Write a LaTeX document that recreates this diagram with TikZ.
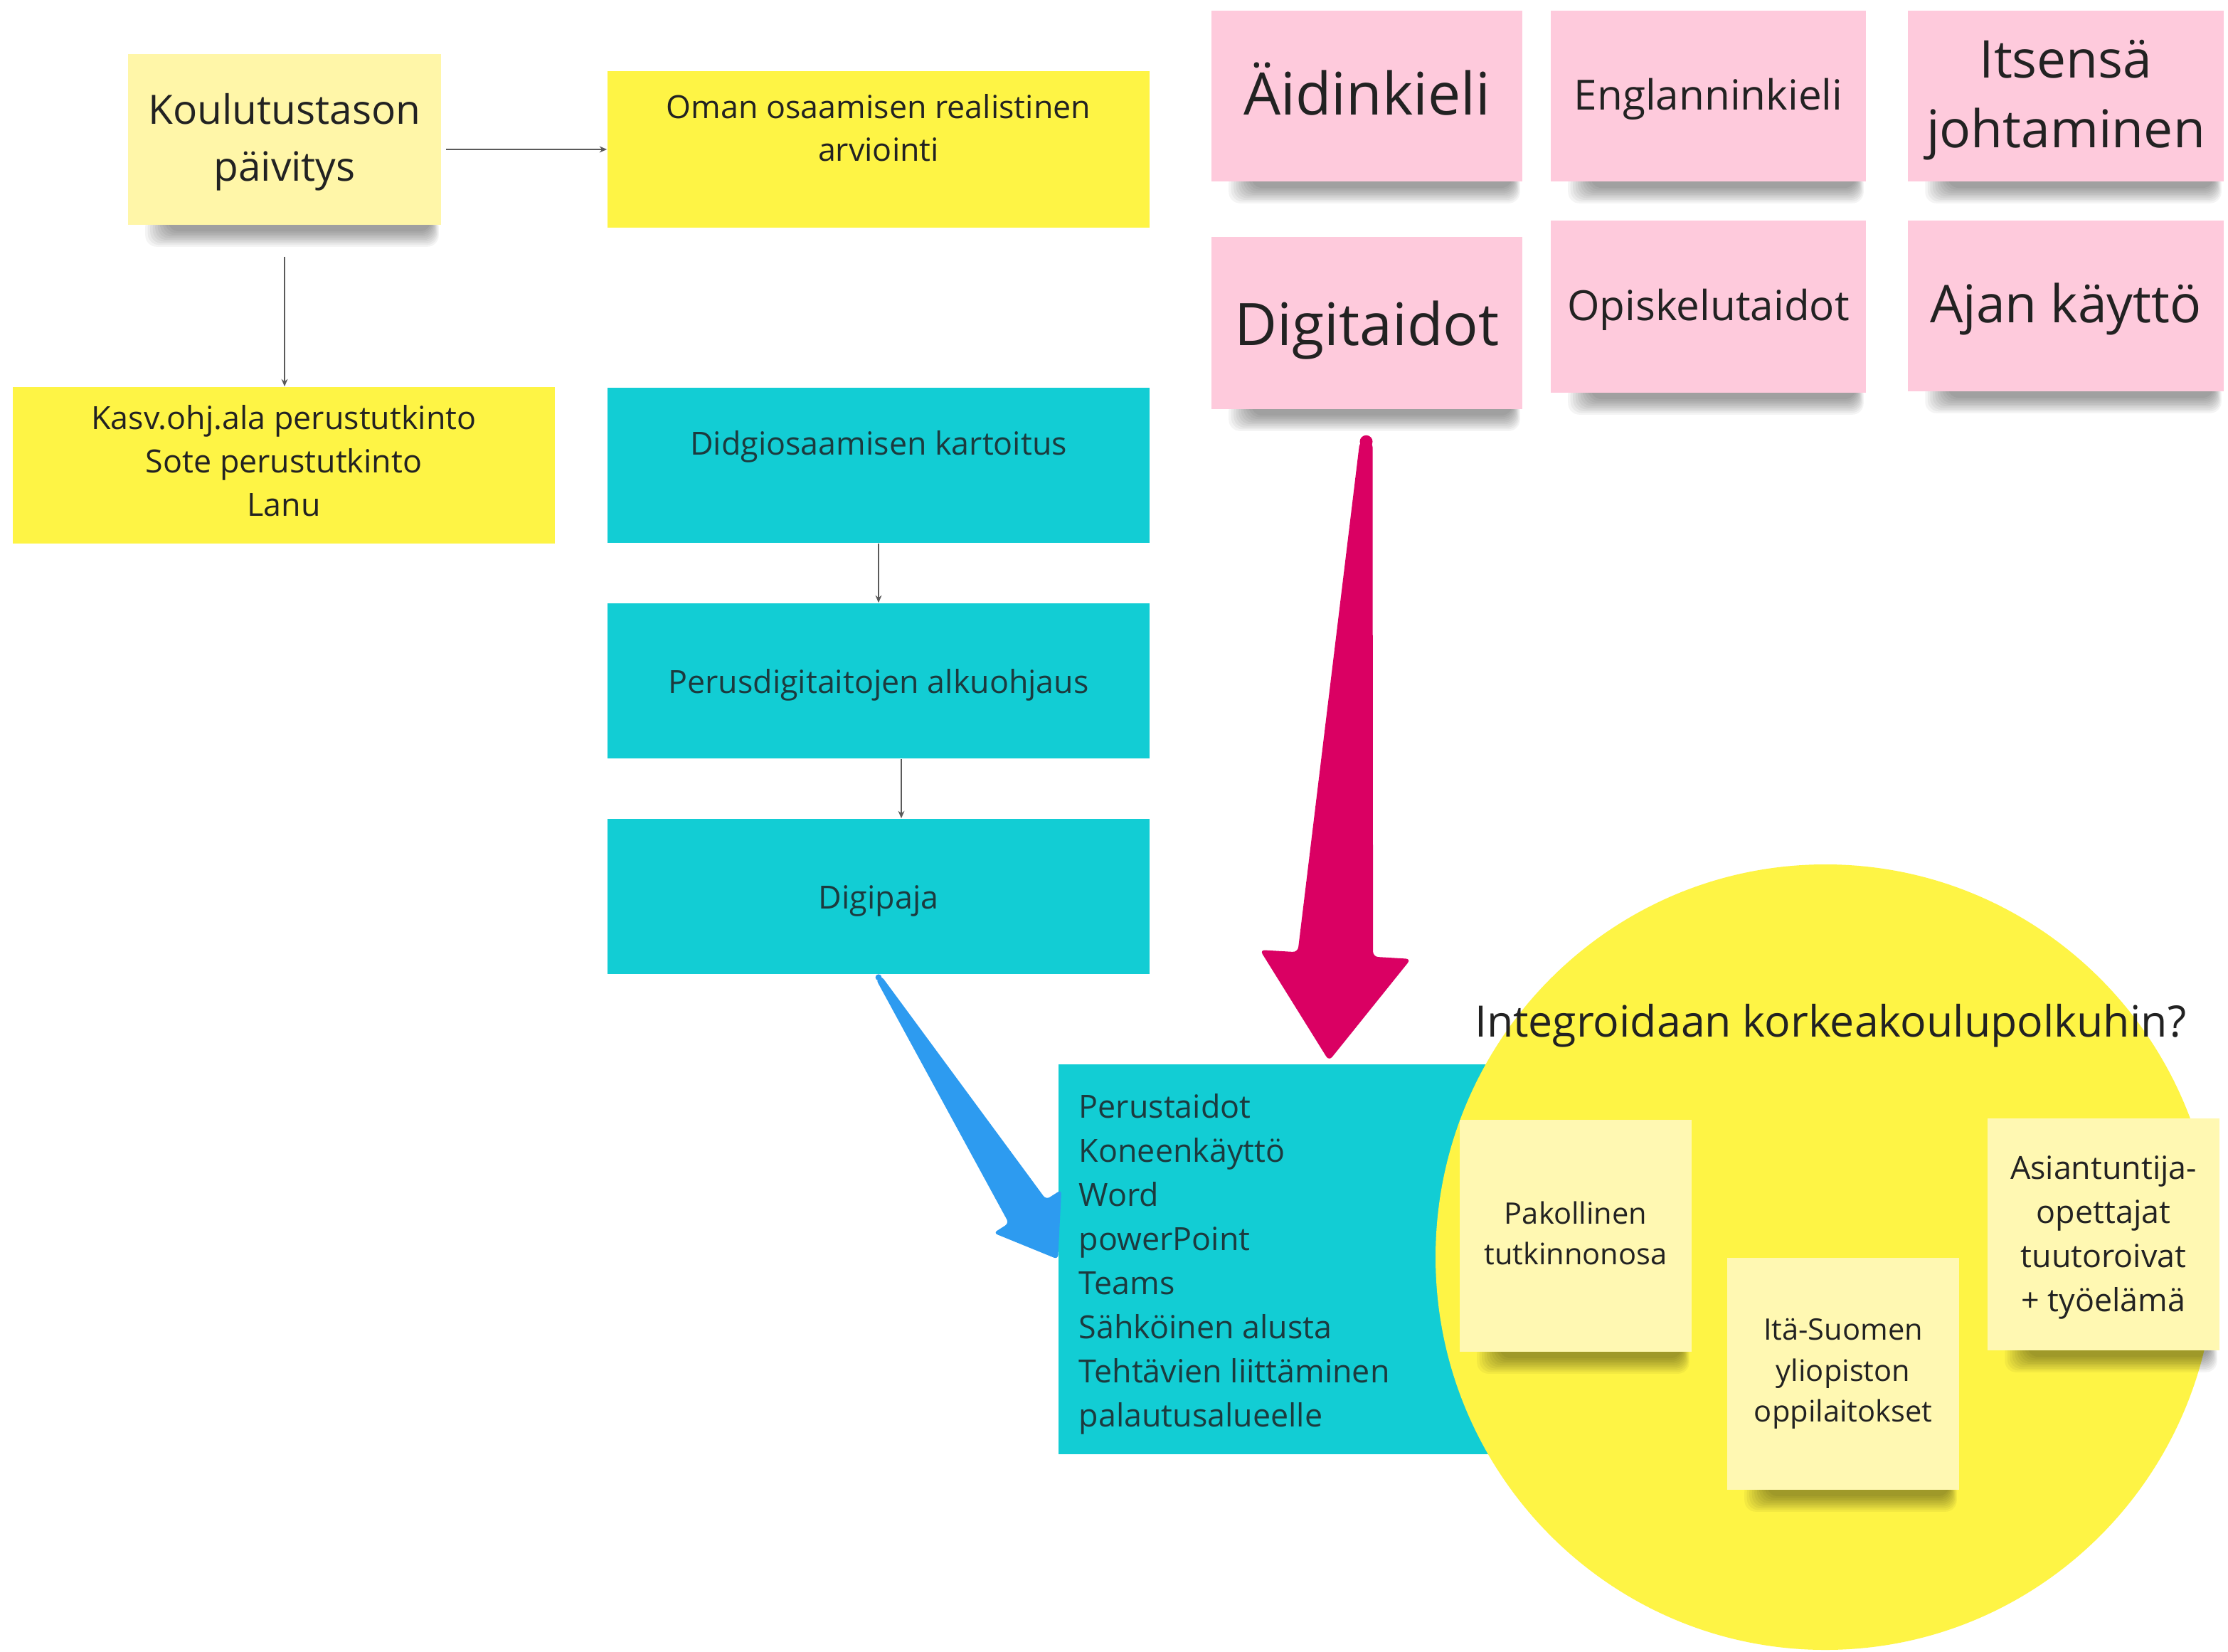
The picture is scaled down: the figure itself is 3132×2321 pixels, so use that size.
\documentclass[tikz,border=0pt]{standalone}
\usepackage{fontspec}
\setmainfont{Open Sans}
\usetikzlibrary{calc,arrows.meta,shapes.geometric}
\definecolor{lightyel}{HTML}{FFF6A8}
\definecolor{noteyel}{HTML}{FFF8B2}
\definecolor{yel}{HTML}{FEF445}
\definecolor{tealbox}{HTML}{12CDD4}
\definecolor{pinknote}{HTML}{FECADC}
\definecolor{pinkarrow}{HTML}{DA0063}
\definecolor{bluearrow}{HTML}{2D9BF0}
\definecolor{conngray}{HTML}{5A5A5A}
\definecolor{txtdark}{HTML}{222222}
\definecolor{tealtxt}{HTML}{1C3A3E}
\pgfdeclarelayer{bg}
\pgfdeclarelayer{shade}
\pgfsetlayers{bg,shade,main}
\newcommand{\fs}[2]{\fontsize{#1}{#2}\selectfont}
\newcommand{\noteshadow}[1]{%
  \begin{pgfonlayer}{shade}
    \foreach \k in {1,...,10}{%
      \fill[black,opacity=0.042,rounded corners=4pt]
        ($(#1.south west)+(60-3.5*\k,-14)$) rectangle ($(#1.south east)+(-16+1.2*\k,6+2.4*\k)$);
    }
  \end{pgfonlayer}}
\begin{document}
\begin{tikzpicture}[x=0.25pt,y=-0.25pt,
  box/.style={rectangle,inner sep=0pt,draw=none},
  sticky/.style={box,fill=lightyel},
  pnote/.style={box,fill=pinknote,minimum height=60pt},
  ynote/.style={box,fill=noteyel,minimum width=81.5pt,minimum height=81.5pt},
  ybox/.style={box,fill=yel,minimum width=190.5pt,minimum height=55pt},
  tbox/.style={box,fill=tealbox,minimum width=190.5pt,minimum height=54.5pt},
  lbl/.style={inner sep=0pt,align=center,text=txtdark},
  tlbl/.style={lbl,text=tealtxt},
  conn/.style={draw=conngray,line width=0.45pt,-{Stealth[length=2.6pt,width=2.2pt]}}]
\begin{pgfonlayer}{bg}
\fill[white] (0,0) rectangle (3132,2321);
\end{pgfonlayer}
\useasboundingbox (0,0) rectangle (3132,2321);

% left column
\node[sticky,minimum width=110pt,minimum height=60pt] (kou) at (400,196) {};
\node[lbl,font=\fs{14.2}{20}] (kout) at ($(kou)+(0,4)$) {Koulutustason\\päivitys};
\noteshadow{kou}
\node[ybox] (oman) at (1235,210) {};
\node[lbl,font=\fs{11.2}{15}] (omant) at ($(oman)+(0,-30)$) {Oman osaamisen realistinen\\arviointi};
\node[ybox] (kasv) at (399,654) {};
\node[lbl,font=\fs{11.2}{15.25}] (kasvt) at ($(kasv)+(0,-6)$) {Kasv.ohj.ala perustutkinto\\Sote perustutkinto\\Lanu};

\node[tbox] (did) at (1235,654) {};
\node[tlbl,font=\fs{11.2}{15}] (didt) at ($(did)+(0,-26)$) {Didgiosaamisen kartoitus};
\node[tbox] (per) at (1235,957) {};
\node[tlbl,font=\fs{11.2}{15}] (pert) at ($(per)+(0,6)$) {Perusdigitaitojen alkuohjaus};
\node[tbox] (dig) at (1235,1260) {};
\node[tlbl,font=\fs{11.2}{15}] (digt) at ($(dig)+(0,6)$) {Digipaja};

% pink notes
\node[pnote,minimum width=109.25pt] (aid) at (1921.5,135) {};
\node[lbl,font=\fs{20.6}{26}] (aidt) at ($(aid)+(0,-10)$) {Äidinkieli};
\node[pnote,minimum width=110.75pt] (eng) at (2401.5,135) {};
\node[lbl,font=\fs{14.6}{20}] (engt) at ($(eng)+(0,4)$) {Englanninkieli};
\node[pnote,minimum width=111pt] (its) at (2904,135) {};
\node[lbl,font=\fs{18.3}{24.5}] (itst) at ($(its)+(0,6)$) {Itsensä\\johtaminen};
\node[pnote,minimum width=109.25pt,minimum height=60.5pt] (dgt) at (1921.5,454) {};
\node[lbl,font=\fs{20.6}{26}] (dgtt) at ($(dgt)+(0,10)$) {Digitaidot};
\node[pnote,minimum width=110.75pt,minimum height=60.5pt] (opi) at (2401.5,431) {};
\node[lbl,font=\fs{14.6}{20}] (opit) at ($(opi)+(0,4)$) {Opiskelutaidot};
\node[pnote,minimum width=111pt] (aja) at (2904,430) {};
\node[lbl,font=\fs{18.3}{24.5}] (ajat) at ($(aja)+(0,4)$) {Ajan käyttö};
\foreach \n in {aid,eng,its,dgt,opi,aja}{\noteshadow{\n}}

% list box and circle (background)
\begin{pgfonlayer}{bg}
  \node[box,fill=tealbox,minimum width=178pt,minimum height=137pt] (list) at (1844,1770) {};
  \node[ellipse,inner sep=0pt,fill=yel,minimum width=274pt,minimum height=276pt] (circ) at (2566,1767) {};
\end{pgfonlayer}
\node[tlbl,anchor=west,align=left,font=\fs{11.2}{15.5}] (listt) at (1516,1777)
  {Perustaidot\\Koneenkäyttö\\Word\\powerPoint\\Teams\\Sähköinen alusta\\Tehtävien liittäminen\\palautusalueelle};

\node[lbl,font=\fs{15.2}{20}] (title) at (2573,1442) {Integroidaan korkeakoulupolkuhin?};

\node[ynote] (pak) at (2215,1737) {};
\node[lbl,font=\fs{10.4}{14.2}] (pakt) at ($(pak)+(0,-4)$) {Pakollinen\\tutkinnonosa};
\node[ynote] (ita) at (2591,1931) {};
\node[lbl,font=\fs{10.4}{14.3}] (itat) at (ita) {Itä-Suomen\\yliopiston\\oppilaitokset};
\node[ynote] (asi) at (2957,1735) {};
\node[lbl,font=\fs{11.2}{15.5}] (asit) at ($(asi)+(0,4)$) {Asiantuntija-\\opettajat\\tuutoroivat\\+ työelämä};
\foreach \n in {pak,ita,asi}{\noteshadow{\n}}

% thin connectors
\draw[conn,shorten <=1.5pt] (kou.east |- oman.west) -- (oman.west);
\draw[conn,shorten <=11pt] (kou.south) -- (kou.south |- kasv.north);
\draw[conn] (did.south) -- (per.north);
\draw[conn] ([xshift=8pt]per.south) -- ([xshift=8pt]dig.north);

% big pink arrow
\coordinate (pT) at ($(dgt.south)+(-1,45)$);
\coordinate (pP) at ($(list.north west)+(381,-4)$);
\coordinate (pB) at ($(pT)!0.828!(pP)$);
\fill[pinkarrow,rounded corners=1.8pt]
  ($(pT)!2.25pt!90:(pP)$) -- ($(pB)!13.25pt!90:(pP)$) -- ($(pB)!26.6pt!90:(pP)$) -- (pP)
  -- ($(pB)!26.6pt!-90:(pP)$) -- ($(pB)!13.25pt!-90:(pP)$) -- ($(pT)!2.25pt!-90:(pP)$) -- cycle;
\fill[pinkarrow] (pT) circle (2.25pt);

% big blue arrow
\coordinate (bT) at ($(dig.south)+(0,4)$);
\coordinate (bP) at (list.west);
\coordinate (bB) at ($(bT)!0.83!(bP)$);
\fill[bluearrow,rounded corners=1.5pt]
  ($(bT)!1.1pt!90:(bP)$) -- ($(bB)!7.75pt!90:(bP)$) -- ($(bB)!14.15pt!90:(bP)$) -- (bP)
  -- ($(bB)!14.15pt!-90:(bP)$) -- ($(bB)!7.75pt!-90:(bP)$) -- ($(bT)!1.1pt!-90:(bP)$) -- cycle;
\fill[bluearrow] (bT) circle (1.1pt);
\end{tikzpicture}
\end{document}
